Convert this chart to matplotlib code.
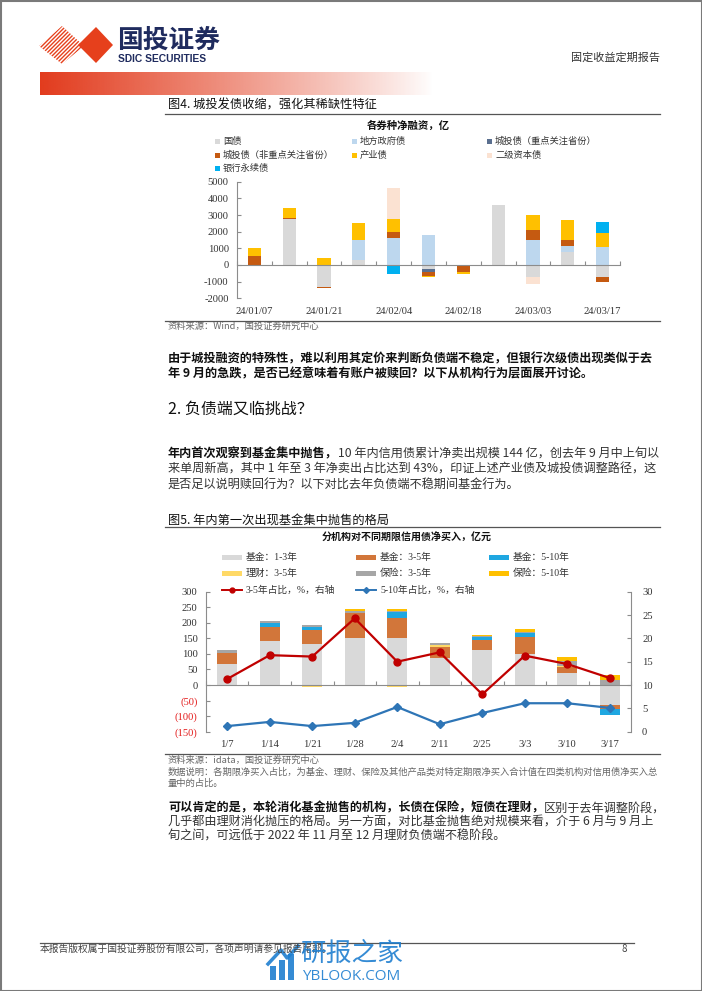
import matplotlib
matplotlib.use('Agg')
import matplotlib.pyplot as plt
import matplotlib.colors as mcolors
import numpy as np
from matplotlib.patches import Rectangle, Polygon
from matplotlib.lines import Line2D

W, H = 702, 991
CJK = ['Noto Sans CJK SC', 'DejaVu Sans']
SERIF = ['Liberation Serif', 'Noto Sans CJK SC']
plt.rcParams['font.family'] = CJK
plt.rcParams['axes.unicode_minus'] = False

# ---- chart 1 data: net financing by bond type (亿)
weeks1 = ['24/01/07', '24/01/14', '24/01/21', '24/01/28', '24/02/04', '24/02/11',
          '24/02/18', '24/02/25', '24/03/03', '24/03/10', '24/03/17']
names1 = ['国债', '地方政府债', '城投债（重点关注省份）', '城投债（非重点关注省份）',
          '产业债', '二级资本债', '银行永续债']
gov = [0, 2750, -1300, 300, 0, -230, 0, 3600, -700, 800, -750]
local_gov = [0, 0, 0, 1200, 1650, 1800, 0, 0, 1500, 350, 1050]
lgfv_key = [0, 0, 0, 0, 0, -170, 0, 0, 0, 0, 0]
lgfv_other = [550, 100, -80, 0, 350, -250, -420, -40, 600, 350, -300]
industrial = [450, 600, 430, 1050, 750, -80, -130, -40, 900, 1200, 850]
tier2 = [0, 0, 0, 0, 1850, 0, 0, 0, -450, 0, 0]
perpetual = [0, 0, 0, 0, -550, 0, 0, 0, 0, 0, 700]
series1 = [gov, local_gov, lgfv_key, lgfv_other, industrial, tier2, perpetual]
colors1 = ['#d9d9d9', '#bdd7ee', '#5a6f8f', '#c55a11', '#ffc000', '#fbe2d2', '#00b0f0']

# ---- chart 2 data: net buying of credit bonds by institution / tenor (亿元)
weeks2 = ['1/7', '1/14', '1/21', '1/28', '2/4', '2/11', '2/25', '3/3', '3/10', '3/17']
names2 = ['基金：1-3年', '基金：3-5年', '基金：5-10年', '理财：3-5年', '保险：3-5年', '保险：5-10年']
fund_1_3 = [67, 140, 133, 150, 150, 88, 112, 100, 38, -65]
fund_3_5 = [36, 48, 45, 80, 65, 35, 33, 53, 19, -12]
fund_5_10 = [0, 12, 10, 0, 20, 0, 10, 14, 0, -18]
wm_3_5 = [-3, 0, -7, -3, -5, 7, 0, 0, 5, 0]
ins_3_5 = [10, 5, 5, 7, 3, 6, 2, 3, 15, 15]
ins_5_10 = [0, 0, 0, 6, 5, 0, 4, 10, 13, 18]
series2 = [fund_1_3, fund_3_5, fund_5_10, wm_3_5, ins_3_5, ins_5_10]
colors2 = ['#d9d9d9', '#d2763a', '#1fa7e1', '#ffd966', '#a6a6a6', '#ffc000']
share_3_5 = [11.3, 16.4, 16.1, 24.3, 15.0, 17.0, 8.0, 16.3, 14.5, 11.5]
share_5_10 = [1.2, 2.1, 1.2, 1.9, 5.3, 1.6, 4.0, 6.1, 6.1, 5.1]

fig = plt.figure(figsize=(W / 100, H / 100), dpi=100)


def box(x0, y0, x1, y1):
    return [x0 / W, 1 - y1 / H, (x1 - x0) / W, (y1 - y0) / H]


def stack(ax, x, series, colors, width):
    pos = np.zeros(len(x))
    neg = np.zeros(len(x))
    for vals, col in zip(series, colors):
        v = np.array(vals, float)
        ax.bar(x, v, width, bottom=np.where(v >= 0, pos, neg), color=col, zorder=2)
        pos += np.clip(v, 0, None)
        neg += np.clip(v, None, 0)


AXC = '#8c8c8c'

# ---------------- chart 1
ax1 = fig.add_axes(box(237, 181.7, 620, 298.3))
ax1.patch.set_visible(False)
x1 = np.arange(len(weeks1))
stack(ax1, x1, series1, colors1, 0.38)
ax1.set_xlim(-0.5, len(weeks1) - 0.5)
ax1.set_ylim(-2000, 5000)
ax1.set_yticks(range(-2000, 5001, 1000))
for s in ['top', 'right']:
    ax1.spines[s].set_visible(False)
ax1.spines['left'].set_color(AXC)
ax1.spines['bottom'].set_position(('data', 0))
ax1.spines['bottom'].set_color(AXC)
ax1.set_xticks(np.arange(-0.5, len(weeks1), 1))
ax1.tick_params(axis='x', direction='in', length=3, color=AXC, labelbottom=False)
ax1.tick_params(axis='y', direction='in', length=3, color=AXC, pad=6, labelsize=7.6,
                labelcolor='#333333')
for t in ax1.get_yticklabels():
    t.set_family(SERIF)
for i, lab in enumerate(weeks1):
    if i % 2 == 0:
        ax1.text(i, -0.109, lab, transform=ax1.get_xaxis_transform(), ha='center',
                 va='center', fontsize=7.6, family=SERIF, color='#333333')

# ---------------- chart 2
ax2 = fig.add_axes(box(206, 591.7, 631, 731.7))
ax2.patch.set_visible(False)
x2 = np.arange(len(weeks2))
stack(ax2, x2, series2, colors2, 0.48)
ax2.set_xlim(-0.5, len(weeks2) - 0.5)
ax2.set_ylim(-150, 300)
lt = list(range(-150, 301, 50))
ax2.set_yticks(lt, [f'({-v})' if v < 0 else str(v) for v in lt])
for t, v in zip(ax2.get_yticklabels(), lt):
    t.set_family(SERIF)
    t.set_color('#e31b1b' if v < 0 else '#333333')
for s in ['top', 'right']:
    ax2.spines[s].set_visible(False)
ax2.spines['left'].set_color(AXC)
ax2.spines['bottom'].set_position(('data', 0))
ax2.spines['bottom'].set_color(AXC)
ax2.set_xticks(np.arange(-0.5, len(weeks2), 1))
ax2.tick_params(axis='x', direction='in', length=3, color=AXC, labelbottom=False)
ax2.tick_params(axis='y', direction='in', length=3, color=AXC, pad=6, labelsize=7.6)
for i, lab in enumerate(weeks2):
    ax2.text(i, -0.089, lab, transform=ax2.get_xaxis_transform(), ha='center',
             va='center', fontsize=7.6, family=SERIF, color='#333333')

ax2r = ax2.twinx()
ax2r.set_ylim(0, 30)
ax2r.set_yticks(range(0, 31, 5))
for s in ['top', 'left', 'bottom']:
    ax2r.spines[s].set_visible(False)
ax2r.spines['right'].set_color(AXC)
ax2r.tick_params(axis='y', direction='in', length=3, color=AXC, pad=8, labelsize=7.6,
                 labelcolor='#333333')
for t in ax2r.get_yticklabels():
    t.set_family(SERIF)
ax2r.plot(x2, share_3_5, color='#c00000', lw=1.6, marker='o', ms=5, zorder=4)
ax2r.plot(x2, share_5_10, color='#2e75b6', lw=1.6, marker='D', ms=4.5, zorder=4)

# ---------------- page overlay (pixel coordinates)
pg = fig.add_axes([0, 0, 1, 1], zorder=5)
pg.patch.set_visible(False)
pg.axis('off')

# gradient banner
grad = np.zeros((1, 256, 4))
grad[..., :3] = mcolors.to_rgb('#e23b1d')
grad[..., 3] = np.linspace(1, 0, 256) ** 0.9
pg.imshow(grad, extent=(40, 434, 95, 72), aspect='auto', interpolation='bilinear')

# logo
red = '#e6401c'
clip = Polygon([(39, 46), (62, 26), (84, 46), (62, 64)], closed=True, fc='none', ec='none')
pg.add_patch(clip)
for k in range(-40, 50, 4):
    ln = Line2D([30 + k, 80 + k], [70, 20], color=red, lw=1.0)
    pg.add_line(ln)
    ln.set_clip_path(clip)
pg.add_patch(Polygon([(78, 45), (96, 27), (113, 45), (96, 63)], closed=True, fc=red, ec='none'))
pg.text(117, 40.5, '国投证券', fontsize=18.5, fontweight='bold', color='#1f2b5e', va='center')
pg.text(118, 59, 'SDIC SECURITIES', fontsize=7.4, fontweight='bold', color='#1f2b5e',
        va='center', family=['Liberation Sans', 'DejaVu Sans'])
pg.text(660, 58, '固定收益定期报告', fontsize=8, color='#333333', va='center', ha='right')

renderer = fig.canvas.get_renderer()


def rich(x, y, parts, size):
    for s, bold in parts:
        t = pg.text(x, y, s, fontsize=size, fontweight='bold' if bold else 'normal',
                    color='#111111' if bold else '#333333', va='center', ha='left')
        x += t.get_window_extent(renderer=renderer).width


BODY = 8.75
SRC = 6.7

# figure 4 header
pg.text(168, 105, '图4. 城投发债收缩，强化其稀缺性特征', fontsize=8.8, color='#111111', va='center')
pg.plot([165, 660], [114, 114], color='#555555', lw=0.9)
pg.text(408, 126, '各券种净融资，亿', fontsize=7.5, fontweight='bold', color='#111111',
        ha='center', va='center')
leg1 = [(215, 141), (352, 141), (487, 141), (215, 155.5), (352, 155.5), (487, 155.5), (215, 168)]
for (lx, ly), name, col in zip(leg1, names1, colors1):
    pg.add_patch(Rectangle((lx, ly - 2.5), 5, 5, fc=col, ec='none'))
    pg.text(lx + 8, ly, name, fontsize=6.7, color='#333333', va='center')
pg.plot([165, 660], [320.5, 320.5], color='#555555', lw=0.9)
pg.text(168, 326, '资料来源：Wind，国投证券研究中心', fontsize=SRC, color='#666666', va='center')

# paragraph 1
rich(168, 359, [('由于城投融资的特殊性，难以利用其定价来判断负债端不稳定，但银行次级债出现类似于去', True)], BODY)
rich(168, 374, [('年 9 月的急跌，是否已经意味着有账户被赎回？以下从机构行为层面展开讨论。', True)], BODY)

pg.text(168, 409, '2. 负债端又临挑战？', fontsize=11.5, color='#111111', va='center')

rich(168, 454, [('年内首次观察到基金集中抛售，', True),
                ('10 年内信用债累计净卖出规模 144 亿，创去年 9 月中上旬以', False)], BODY)
rich(168, 469, [('来单周新高，其中 1 年至 3 年净卖出占比达到 43%，印证上述产业债及城投债调整路径，这', False)], BODY)
rich(168, 484, [('是否足以说明赎回行为？以下对比去年负债端不稳期间基金行为。', False)], BODY)

# figure 5 header
pg.text(168, 520, '图5. 年内第一次出现基金集中抛售的格局', fontsize=8.8, color='#111111', va='center')
pg.plot([165, 660], [527, 527], color='#555555', lw=0.9)
pg.text(407, 538, '分机构对不同期限信用债净买入，亿元', fontsize=7.2, fontweight='bold',
        color='#111111', ha='center', va='center')
leg2 = [(222, 557.5), (356, 557.5), (489, 557.5), (222, 573), (356, 573), (489, 573)]
for (lx, ly), name, col in zip(leg2, names2, colors2):
    pg.add_patch(Rectangle((lx, ly - 2.5), 20, 5, fc=col, ec='none'))
    pg.text(lx + 24, ly, name, fontsize=7, color='#333333', va='center', family=SERIF)
pg.plot([222, 242], [590, 590], color='#c00000', lw=1.4)
pg.plot([232], [590], color='#c00000', marker='o', ms=3.5)
pg.text(246, 590, '3-5年占比，%，右轴', fontsize=7, color='#333333', va='center', family=SERIF)
pg.plot([356, 376], [590, 590], color='#2e75b6', lw=1.4)
pg.plot([366], [590], color='#2e75b6', marker='D', ms=3)
pg.text(380, 590, '5-10年占比，%，右轴', fontsize=7, color='#333333', va='center', family=SERIF)
pg.plot([165, 660], [754, 754], color='#555555', lw=0.9)
pg.text(168, 760, '资料来源：idata，国投证券研究中心', fontsize=SRC, color='#666666', va='center')
pg.text(168, 772, '数据说明：各期限净买入占比，为基金、理财、保险及其他产品类对特定期限净买入合计值在四类机构对信用债净买入总',
        fontsize=SRC, color='#666666', va='center')
pg.text(168, 783, '量中的占比。', fontsize=SRC, color='#666666', va='center')

# paragraph 3
rich(168, 808, [('可以肯定的是，本轮消化基金抛售的机构，长债在保险，短债在理财，', True),
                ('区别于去年调整阶段，', False)], BODY)
rich(168, 822, [('几乎都由理财消化抛压的格局。另一方面，对比基金抛售绝对规模来看，介于 6 月与 9 月上', False)], BODY)
rich(168, 836, [('旬之间，可远低于 2022 年 11 月至 12 月理财负债端不稳阶段。', False)], BODY)

# footer
pg.plot([40, 634], [943, 943], color='#555555', lw=0.9)
pg.text(40, 949, '本报告版权属于国投证券股份有限公司，各项声明请参见报告尾部。', fontsize=7,
        color='#444444', va='center')
pg.text(621, 949, '8', fontsize=7, color='#444444', va='center')

# watermark
blue = '#1f7fd0'
for bx, bh in [(270, 14), (279, 20), (288, 26)]:
    pg.add_patch(Rectangle((bx, 980 - bh), 6, bh, fc=blue, ec='none', alpha=0.9))
pg.plot([268, 281, 287, 298], [964, 950, 958, 946], color=blue, lw=2.5, alpha=0.9)
pg.text(300, 954, '研报之家', fontsize=18.5, color=blue, va='center', alpha=0.9)
pg.text(302, 977, 'YBLOOK.COM', fontsize=11, color=blue, va='center', alpha=0.9,
        family=['Open Sans', 'DejaVu Sans'])

# page frame
pg.add_patch(Rectangle((0.5, 0.5), W - 1, H - 1, fill=False, ec='#7a7a7a', lw=1.5))
pg.set_xlim(0, W)
pg.set_ylim(H, 0)

fig.savefig('out.png', dpi=100)
